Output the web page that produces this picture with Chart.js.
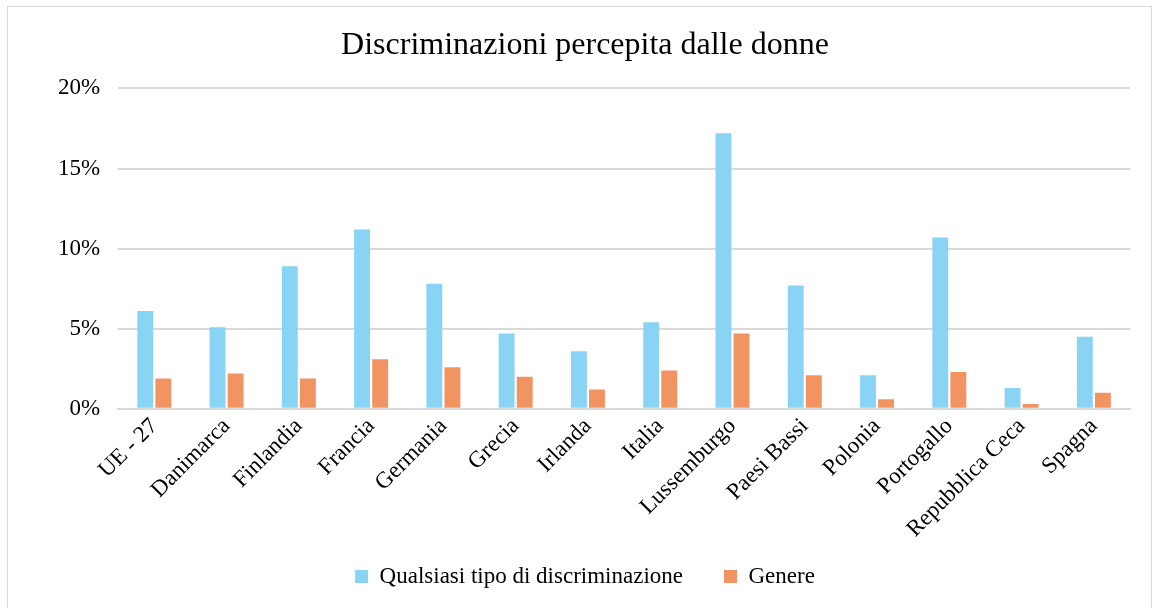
<!DOCTYPE html>
<html>
<head>
<meta charset="utf-8">
<script src="https://cdn.jsdelivr.net/npm/chart.js@4"></script>
<style>
  body { margin: 0; background: #fff; }
  #frame { position: absolute; left: 7px; top: 6px; width: 1143px; height: 620px; border: 1px solid #d9d9d9; }
  #wrap { position: absolute; left: 0; top: 0; width: 1156px; height: 608px; }
</style>
</head>
<body>
<div id="frame"></div>
<div id="wrap"><canvas id="chart"></canvas></div>
<script>
// Dati
const paesi = ['UE - 27', 'Danimarca', 'Finlandia', 'Francia', 'Germania', 'Grecia', 'Irlanda',
  'Italia', 'Lussemburgo', 'Paesi Bassi', 'Polonia', 'Portogallo', 'Repubblica Ceca', 'Spagna'];
const qualsiasi = [6.1, 5.1, 8.9, 11.2, 7.8, 4.7, 3.6, 5.4, 17.2, 7.7, 2.1, 10.7, 1.3, 4.5];
const genere = [1.9, 2.2, 1.9, 3.1, 2.6, 2.0, 1.2, 2.4, 4.7, 2.1, 0.6, 2.3, 0.3, 1.0];
const yTicks = [0, 5, 10, 15, 20];

const colori = { blu: '#89D4F5', arancio: '#F29462', griglia: '#d9d9d9', testo: '#000000' };
const font = 'Liberation Serif, Times New Roman, serif';

new Chart(document.getElementById('chart'), {
  type: 'bar',
  data: {
    labels: paesi,
    datasets: [
      { label: 'Qualsiasi tipo di discriminazione', data: qualsiasi, backgroundColor: colori.blu },
      { label: 'Genere', data: genere, backgroundColor: colori.arancio }
    ]
  },
  options: {
    responsive: true,
    maintainAspectRatio: false,
    animation: false,
    categoryPercentage: 0.5,
    barPercentage: 0.88,
    layout: { padding: { left: 40, right: 26, top: 0, bottom: 10 } },
    scales: {
      x: {
        grid: { display: false, drawTicks: false },
        border: { display: true, color: colori.griglia, width: 2 },
        ticks: {
          color: colori.testo, font: { family: font, size: 23 },
          maxRotation: 45, minRotation: 45, padding: 4
        }
      },
      y: {
        min: 0, max: 20,
        afterBuildTicks: axis => { axis.ticks = yTicks.map(v => ({ value: v })); },
        grid: { color: colori.griglia, lineWidth: 2, drawTicks: false },
        border: { display: false },
        ticks: {
          color: colori.testo, font: { family: font, size: 23 }, padding: 18,
          callback: v => v + '%'
        }
      }
    },
    plugins: {
      title: {
        display: true, text: 'Discriminazioni percepita dalle donne',
        color: colori.testo, font: { family: font, size: 32, weight: 'normal' },
        padding: { top: 26, bottom: 24 }
      },
      legend: {
        position: 'bottom',
        labels: {
          color: colori.testo, font: { family: font, size: 23 },
          boxWidth: 13, boxHeight: 13, padding: 18,
          // un po' di spazio in più tra le due voci, come nell'originale
          generateLabels: chart => Chart.defaults.plugins.legend.labels.generateLabels(chart)
            .map((item, i, all) => i < all.length - 1 ? { ...item, text: item.text + '\u2002\u2002' } : item)
        }
      },
      tooltip: { enabled: false }
    }
  }
});
</script>
</body>
</html>
